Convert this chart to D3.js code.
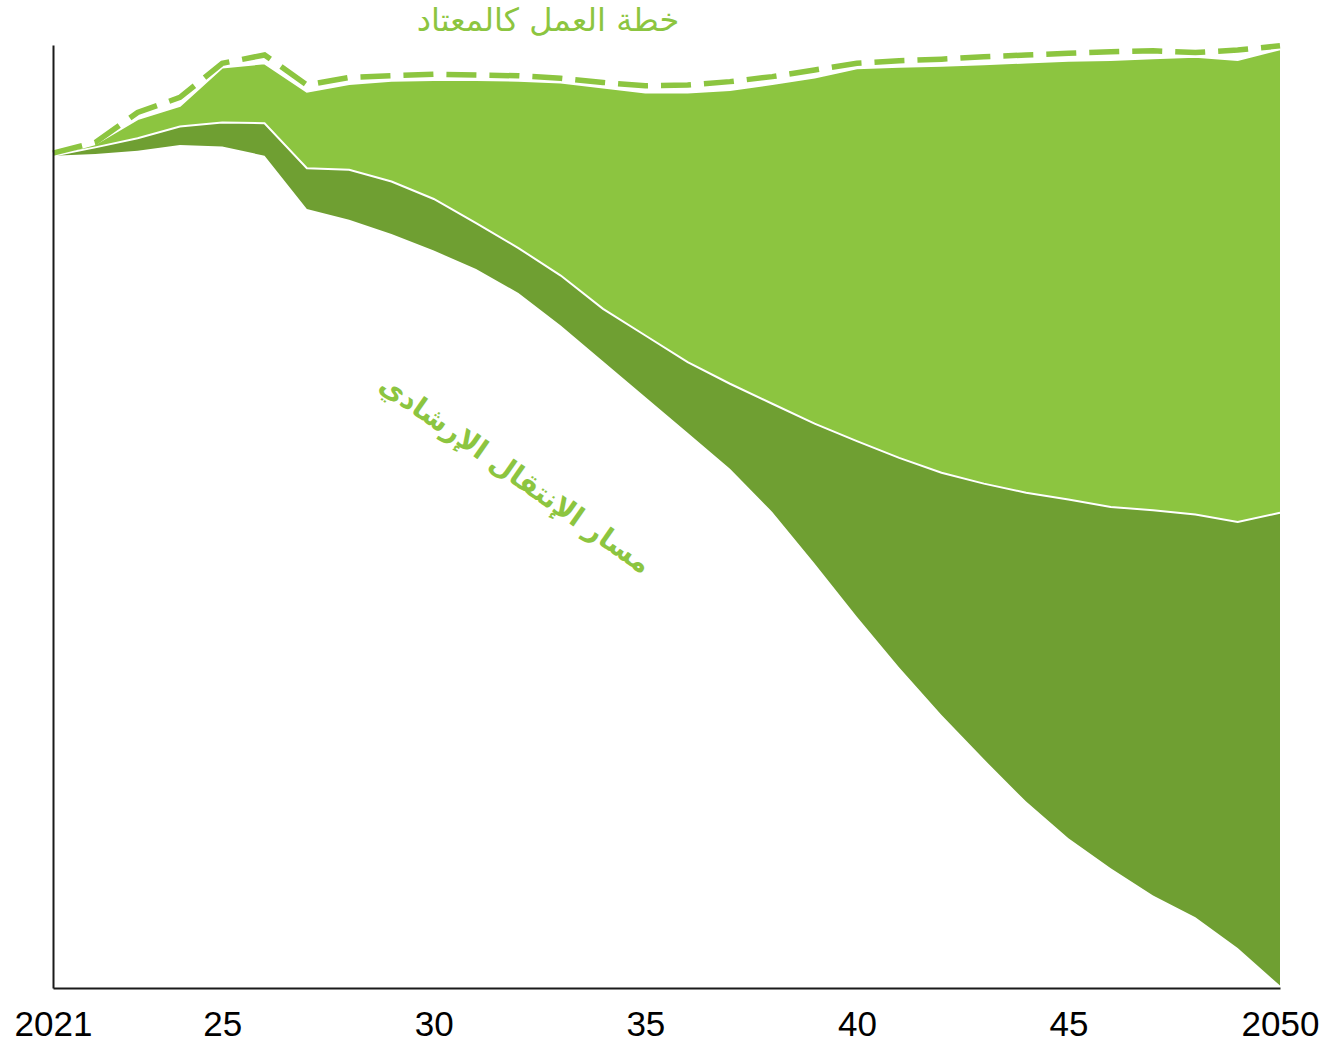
<!DOCTYPE html>
<html lang="ar">
<head>
<meta charset="utf-8">
<script src="https://cdn.jsdelivr.net/npm/d3@7"></script>
<style>
  body { margin: 0; background: #fff; }
  svg { display: block; }
</style>
</head>
<body>
<div id="chart"></div>
<script>
// index, 2021 = 100
const years = d3.range(2021, 2051);

const businessAsUsual = [100.3, 101.6, 105.2, 107.0, 111.1, 112.1, 108.5, 109.4, 109.6, 109.8,
                         109.7, 109.6, 109.3, 108.8, 108.4, 108.5, 108.9, 109.5, 110.3, 111.1,
                         111.4, 111.6, 111.9, 112.1, 112.3, 112.5, 112.6, 112.4, 112.7, 113.2];

const topSeries = [100.0, 101.4, 104.4, 106.0, 110.6, 111.1, 107.7, 108.6, 109.0, 109.1,
                   109.1, 109.0, 108.8, 108.2, 107.6, 107.6, 107.9, 108.6, 109.4, 110.5,
                   110.7, 110.8, 111.0, 111.2, 111.4, 111.5, 111.7, 111.9, 111.5, 112.8];

const middleSeries = [100.0, 101.0, 102.1, 103.5, 104.0, 103.9, 98.5, 98.3, 96.9, 94.8,
                      91.9, 88.9, 85.6, 81.6, 78.4, 75.2, 72.6, 70.2, 67.8, 65.7,
                      63.7, 61.9, 60.6, 59.5, 58.7, 57.8, 57.4, 56.9, 56.0, 57.1];

const pathwaySeries = [100.0, 100.2, 100.6, 101.3, 101.1, 100.0, 93.6, 92.3, 90.6, 88.6,
                       86.4, 83.5, 79.6, 75.3, 71.0, 66.7, 62.4, 57.2, 51.0, 44.6,
                       38.5, 32.8, 27.5, 22.4, 18.0, 14.4, 11.1, 8.5, 4.8, 0.3];

const tickYears = [2021, 2025, 2030, 2035, 2040, 2045, 2050];
const tickLabels = ["2021", "25", "30", "35", "40", "45", "2050"];

const bauLabel = "خطة العمل كالمعتاد";
const pathwayLabel = "مسار الإنتقال الإرشادي";

const width = 1319;
const height = 1044;
const lightGreen = "#8cc540";
const darkGreen = "#6f9f32";

const rows = years.map((y, i) => ({
    year: y,
    bau: businessAsUsual[i],
    top: topSeries[i],
    mid: middleSeries[i],
    low: pathwaySeries[i]
}));

const x = d3.scaleLinear()
    .domain([2021, 2050])
    .range([53, 1280]);

const y = d3.scaleLinear()
    .domain([0, 113.3])
    .range([988, 45]);

const svg = d3.select("#chart")
    .append("svg")
    .attr("width", width)
    .attr("height", height);

const lightArea = d3.area()
    .x(d => x(d.year))
    .y0(d => y(d.mid))
    .y1(d => y(d.top));

const darkArea = d3.area()
    .x(d => x(d.year))
    .y0(d => y(d.low))
    .y1(d => y(d.mid));

svg.append("path")
    .datum(rows)
    .attr("d", lightArea)
    .attr("fill", lightGreen);

svg.append("path")
    .datum(rows)
    .attr("d", darkArea)
    .attr("fill", darkGreen);

// white edges
const line = key => d3.line().x(d => x(d.year)).y(d => y(d[key]));

svg.append("path")
    .datum(rows)
    .attr("d", line("top"))
    .attr("fill", "none")
    .attr("stroke", "#fff")
    .attr("stroke-width", 2);

svg.append("path")
    .datum(rows)
    .attr("d", line("mid"))
    .attr("fill", "none")
    .attr("stroke", "#fff")
    .attr("stroke-width", 2);

// business as usual dashed
svg.append("path")
    .datum(rows)
    .attr("d", line("bau"))
    .attr("fill", "none")
    .attr("stroke", lightGreen)
    .attr("stroke-width", 5.5)
    .attr("stroke-dasharray", "30,13");

// axes
const xAxis = d3.axisBottom(x)
    .tickValues(tickYears)
    .tickFormat((d, i) => tickLabels[i])
    .tickSizeInner(0)
    .tickSizeOuter(0)
    .tickPadding(23);

const gx = svg.append("g")
    .attr("transform", `translate(0, ${y(0)})`)
    .call(xAxis);

gx.select(".domain")
    .attr("stroke", "#1a1a1a")
    .attr("stroke-width", 2);

gx.selectAll("text")
    .attr("fill", "#000")
    .style("font-family", "'Liberation Sans', Arial, sans-serif")
    .style("font-size", "35px");

const yAxis = d3.axisLeft(y)
    .tickValues([])
    .tickSizeOuter(0);

svg.append("g")
    .attr("transform", `translate(${x(2021)}, 0)`)
    .call(yAxis)
    .select(".domain")
    .attr("stroke", "#1a1a1a")
    .attr("stroke-width", 2);

// labels
svg.append("text")
    .attr("x", 548)
    .attr("y", 31)
    .attr("text-anchor", "middle")
    .attr("direction", "rtl")
    .attr("fill", lightGreen)
    .style("font-family", "'DejaVu Sans', sans-serif")
    .style("font-size", "32px")
    .text(bauLabel);

svg.append("text")
    .attr("transform", "translate(510, 482) rotate(35)")
    .attr("text-anchor", "middle")
    .attr("direction", "rtl")
    .attr("fill", lightGreen)
    .style("font-family", "'DejaVu Sans', sans-serif")
    .style("font-size", "28px")
    .style("font-weight", "bold")
    .text(pathwayLabel);
</script>
</body>
</html>
